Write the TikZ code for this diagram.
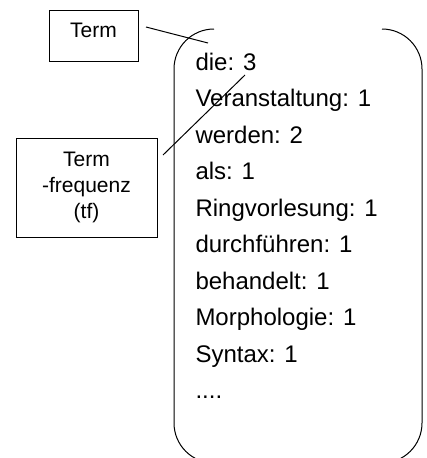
\documentclass[tikz,border=0pt]{standalone}
\usepackage{fontspec}
\setmainfont{Liberation Sans}
\begin{document}
\begin{tikzpicture}[x=1pt,y=-1pt,
  line width=1pt,
  labelbox/.style={draw,line width=1pt,inner sep=0pt,font=\fontsize{21}{26}\selectfont,align=center},
  listitem/.style={anchor=base west,inner sep=0pt,font=\fontsize{24}{29}\selectfont},
  conn/.style={line width=1pt}]
\useasboundingbox (0,0) rectangle (427,458);
\begin{scope}
\clip (0,0) rectangle (427,458);
\draw[rounded corners=40pt] (214,29) -- (174,29) -- (174,463) -- (422,463) -- (422,29) -- (382,29);
\end{scope}
\node[labelbox,minimum width=89pt,text height=27pt,text depth=24pt] (term) at (93.5,35.5) {Term};
\node[labelbox,minimum width=141pt,minimum height=99pt] (tf) at (86.5,187.5) {Term\\-frequenz\\(tf)};
\node[listitem] (item0) at (195,70) {die: 3};
\node[listitem] (item1) at (195,106.5) {Veranstaltung: 1};
\node[listitem] (item2) at (195,143) {werden: 2};
\node[listitem] (item3) at (195,179.5) {als: 1};
\node[listitem] (item4) at (195,216) {Ringvorlesung: 1};
\node[listitem] (item5) at (195,252.5) {durchführen: 1};
\node[listitem] (item6) at (195,289) {behandelt: 1};
\node[listitem] (item7) at (195,325.5) {Morphologie: 1};
\node[listitem] (item8) at (195,362) {Syntax: 1};
\node[listitem] (item9) at (195,398.5) {....};
\coordinate (a1) at (146,27);
\coordinate (a2) at (208,43);
\coordinate (b1) at (163,155);
\coordinate (b2) at (245,75);
\draw[conn] (a1) -- (a2);
\draw[conn] (b1) -- (b2);
\end{tikzpicture}
\end{document}
